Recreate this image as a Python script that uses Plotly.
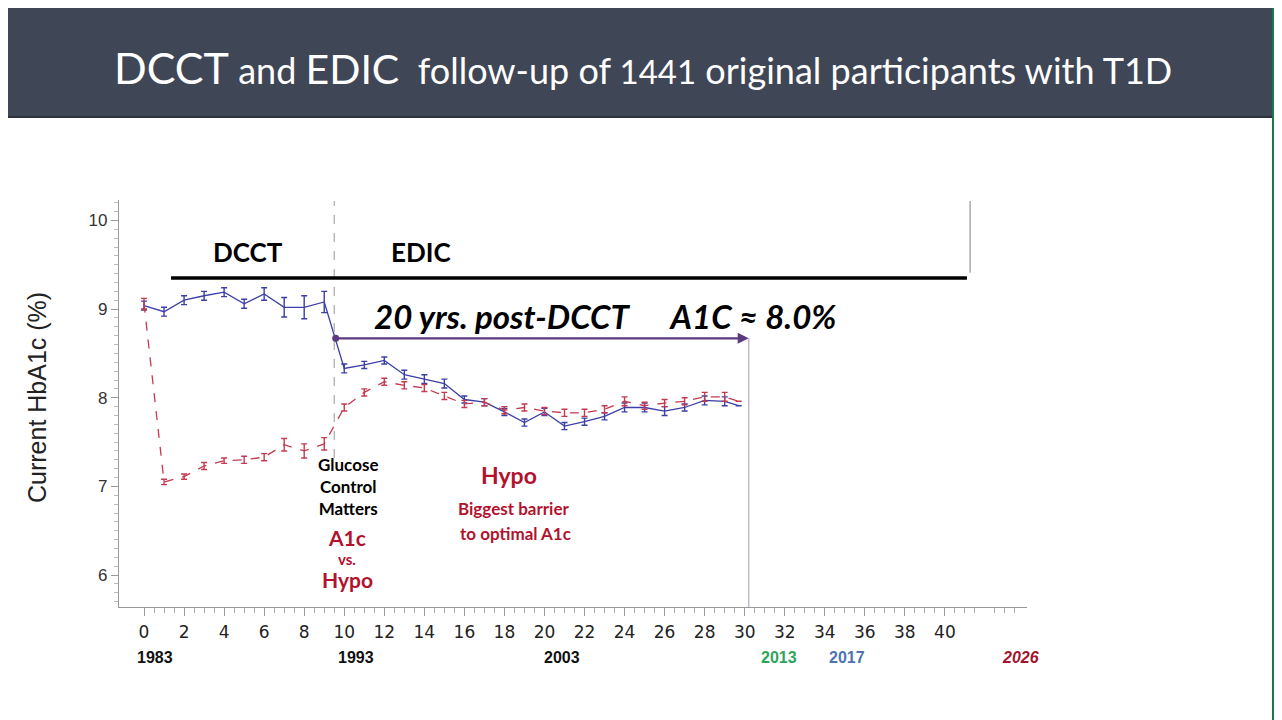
import plotly.graph_objects as go

# years since DCCT start (1983)
years_dcct = [0, 1, 2, 3, 4, 5, 6, 7, 8, 9]
years_edic = [10, 11, 12, 13, 14, 15, 16, 17, 18, 19, 20, 21, 22, 23, 24, 25, 26, 27, 28, 29, 29.7]

# conventional group (blue, solid)
conv_dcct = [9.04, 8.97, 9.10, 9.15, 9.19, 9.06, 9.17, 9.02, 9.02, 9.08]
conv_dcct_err = [0.05, 0.05, 0.05, 0.05, 0.05, 0.05, 0.07, 0.11, 0.13, 0.12]
conv_edic = [8.33, 8.37, 8.42, 8.26, 8.21, 8.16, 7.98, 7.95, 7.84, 7.72, 7.84,
             7.68, 7.73, 7.79, 7.89, 7.89, 7.85, 7.89, 7.97, 7.96, 7.91]
conv_edic_err = [0.05, 0.04, 0.04, 0.05, 0.05, 0.05, 0.04, 0.04, 0.04, 0.04, 0.04,
                 0.04, 0.04, 0.04, 0.05, 0.05, 0.05, 0.04, 0.05, 0.05, 0]

# intensive group (red, dashed)
int_dcct = [9.06, 7.05, 7.11, 7.23, 7.29, 7.30, 7.33, 7.47, 7.40, 7.48]
int_dcct_err = [0.06, 0.03, 0.03, 0.04, 0.03, 0.04, 0.04, 0.07, 0.08, 0.07]
int_edic = [7.89, 8.06, 8.18, 8.14, 8.11, 8.02, 7.93, 7.95, 7.86, 7.89, 7.85,
            7.83, 7.83, 7.87, 7.96, 7.91, 7.94, 7.96, 8.01, 8.01, 7.96]
int_edic_err = [0.04, 0.04, 0.04, 0.04, 0.04, 0.04, 0.04, 0.04, 0.04, 0.04, 0.04,
                0.04, 0.04, 0.04, 0.05, 0.04, 0.04, 0.04, 0.05, 0.05, 0]

x_ticks = list(range(0, 41, 2))
y_ticks = [6, 7, 8, 9, 10]
year_labels = ["1983", "1993", "2003", "2013", "2017", "2026"]
year_pos = [0.55, 10.6, 20.9, 31.7, 35.1, 43.8]
year_colors = ["#111111", "#111111", "#111111", "#2ea55c", "#4f74b0", "#a3142e"]

# page body keeps an 8px margin, so the figure is drawn 8px in from the top-left
OFF = 8
W, H = 1282 - OFF, 720 - OFF
BLUE = "#3b3fa6"
RED = "#c43a50"
DARKRED = "#b3122e"
FONT = "Lato, Open Sans, sans-serif"


def px(x):
    return (x - OFF) / W


def py(y):
    return 1 - (y - OFF) / H


fig = go.Figure()

fig.add_trace(go.Scatter(
    x=years_dcct + years_edic,
    y=conv_dcct + conv_edic,
    mode="lines",
    line=dict(color=BLUE, width=1.3),
    error_y=dict(type="data", array=conv_dcct_err + conv_edic_err,
                 color=BLUE, thickness=1.4, width=3),
    showlegend=False,
))
fig.add_trace(go.Scatter(
    x=years_dcct + years_edic,
    y=int_dcct + int_edic,
    mode="lines",
    line=dict(color=RED, width=1.3, dash="dash"),
    error_y=dict(type="data", array=int_dcct_err + int_edic_err,
                 color=RED, thickness=1.4, width=3),
    showlegend=False,
))

shapes = [
    # slide background pieces
    dict(type="rect", xref="paper", yref="paper", x0=0, x1=px(1272), y0=0, y1=py(117),
         fillcolor="white", line_width=0, layer="below"),
    dict(type="rect", xref="paper", yref="paper", x0=0, x1=px(1272), y0=py(117), y1=1,
         fillcolor="#3f4656", line_width=0, layer="below"),
    dict(type="line", xref="paper", yref="paper", x0=0, x1=px(1272), y0=py(117), y1=py(117),
         line=dict(color="#2c313c", width=2), layer="below"),
    # DCCT / EDIC divider
    dict(type="line", x0=9.5, x1=9.5, y0=7.32, y1=10.22,
         line=dict(color="#aaaaaa", width=1.2, dash="dash")),
    # header bar
    dict(type="line", x0=1.35, x1=41.1, y0=9.35, y1=9.35,
         line=dict(color="black", width=3.5)),
    dict(type="line", x0=41.26, x1=41.26, y0=9.41, y1=10.22,
         line=dict(color="#aaaaaa", width=1.5)),
    # end of 20-year span
    dict(type="line", x0=30.2, x1=30.2, y0=5.64, y1=8.67,
         line=dict(color="#c4b6d4", width=1.5)),
]

ann = []
# arrow 20 years post-DCCT
ann.append(dict(x=30.2, y=8.67, ax=9.5, ay=8.67, xref="x", yref="y", axref="x", ayref="y",
                text="", showarrow=True, arrowhead=2, arrowsize=1, arrowwidth=2.2,
                arrowcolor="#5d3a80", arrowside="end+start", startarrowhead=6,
                startarrowsize=0.8))


def label(text, x, y, size, color="black", font=FONT, **kw):
    ann.append(dict(text=text, x=px(x), y=py(y), xref="paper", yref="paper",
                    showarrow=False, font=dict(size=size, color=color, family=font),
                    xanchor="center", yanchor="middle", **kw))


label("<span style='font-size:43px'>DCCT</span> and <span style='font-size:41px'>EDIC</span>"
      "  follow-up of <span style='font-size:33px'>1441</span> original participants with T1D",
      643, 68, 36, color="white")
label("<b>DCCT</b>", 248, 252, 26)
label("<b>EDIC</b>", 421, 252, 26)
label("<b><i>20 yrs. post-DCCT      A1C ≈ 8.0%</i></b>", 605, 316, 33)
label("<b>Glucose<br>Control<br>Matters</b>", 348, 487, 17)
label("<b>A1c</b>", 347, 537, 21, color=DARKRED)
label("<b>vs.</b>", 347, 559, 15, color=DARKRED)
label("<b>Hypo</b>", 347, 579, 21, color=DARKRED)
label("<b>Hypo</b>", 509, 475, 23, color=DARKRED)
label("<b>Biggest barrier</b>", 514, 508, 17, color=DARKRED)
label("<b>to optimal A1c</b>", 515, 533, 17, color=DARKRED)
label("Current HbA1c (%)", 37, 398, 25, color="#222222",
      font="Liberation Sans Narrow, Liberation Sans, Arial", textangle=-90)

for t, xv, c in zip(year_labels, year_pos, year_colors):
    italic = t == "2026"
    txt = f"<b><i>{t}</i></b>" if italic else f"<b>{t}</b>"
    ann.append(dict(text=txt, x=xv, y=py(657), xref="x", yref="paper", showarrow=False,
                    font=dict(size=16, color=c, family="Liberation Sans Narrow, Liberation Sans"),
                    xanchor="center", yanchor="middle"))

minor_x = [v / 2 for v in range(0, 89) if v % 4 != 0]
minor_y = [round(6 + i / 10, 1) for i in range(-3, 43) if i % 10 != 0]

fig.update_layout(
    width=W, height=H,
    margin=dict(l=0, r=0, t=0, b=0),
    paper_bgcolor="#187a45",
    plot_bgcolor="rgba(0,0,0,0)",
    shapes=shapes,
    annotations=ann,
    xaxis=dict(
        domain=[px(119), px(1027)],
        range=[-1.25, 44.1],
        showgrid=False, zeroline=False,
        showline=True, linecolor="#999999", linewidth=1.2,
        tickmode="array", tickvals=x_ticks,
        ticks="outside", ticklen=8, tickcolor="#999999",
        ticklabelstandoff=1,
        tickfont=dict(family="DejaVu Sans", size=17, color="#222222"),
        minor=dict(tickmode="array", tickvals=minor_x, ticks="outside",
                   ticklen=5, tickcolor="#aaaaaa"),
    ),
    yaxis=dict(
        domain=[py(607), py(200)],
        range=[5.64, 10.23],
        showgrid=False, zeroline=False,
        showline=True, linecolor="#999999", linewidth=1.2,
        tickmode="array", tickvals=y_ticks,
        ticks="outside", ticklen=7, tickcolor="#999999",
        tickfont=dict(family="Liberation Sans", size=17, color="#333333"),
        minor=dict(tickmode="array", tickvals=minor_y, ticks="outside",
                   ticklen=4, tickcolor="#bbbbbb"),
    ),
)

fig.write_html("out.html")
